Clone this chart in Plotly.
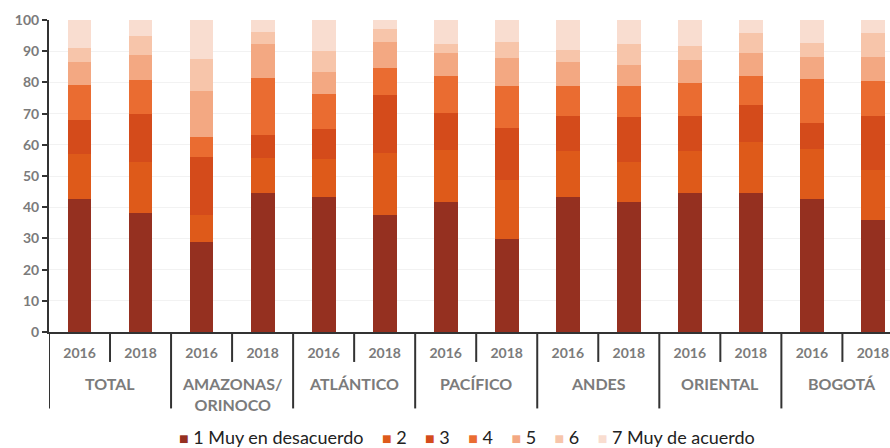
import plotly.graph_objects as go

regions = ["TOTAL", "AMAZONAS/<br>ORINOCO", "ATLÁNTICO", "PACÍFICO", "ANDES", "ORIENTAL", "BOGOTÁ"]
years = ["2016", "2018"]
series_names = ["1 Muy en desacuerdo", "2", "3", "4", "5", "6", "7 Muy de acuerdo"]

# Values per bar (region x year), order: TOTAL16, TOTAL18, AMAZ16, AMAZ18, ...
s1 = [42.7, 38.0, 29.0, 44.4, 43.4, 37.6, 41.8, 29.9, 43.4, 41.6, 44.7, 44.7, 42.7, 35.8]
s2 = [14.3, 16.5, 8.6, 11.4, 12.1, 19.8, 16.6, 18.9, 14.7, 13.0, 13.4, 16.2, 16.1, 16.2]
s3 = [10.8, 15.4, 18.6, 7.2, 9.5, 18.7, 11.8, 16.5, 11.2, 14.2, 11.0, 11.8, 8.2, 17.3]
s4 = [11.3, 10.9, 6.3, 18.3, 11.3, 8.5, 12.0, 13.6, 9.4, 10.0, 10.8, 9.2, 14.1, 11.3]
s5 = [7.3, 7.9, 14.8, 11.1, 7.0, 8.2, 7.3, 8.8, 7.7, 6.9, 7.3, 7.6, 7.1, 7.6]
s6 = [4.7, 6.3, 10.2, 3.8, 6.9, 4.2, 2.8, 5.4, 3.9, 6.7, 4.4, 6.4, 4.4, 7.7]
s7 = [8.9, 5.0, 12.5, 3.8, 9.8, 3.0, 7.7, 6.9, 9.7, 7.6, 8.4, 4.1, 7.4, 4.1]
series = [s1, s2, s3, s4, s5, s6, s7]
colors = ["#953020", "#DE5A1A", "#D44B1B", "#EA6C31", "#F3A882", "#F7C5AA", "#F9DDD0"]

n = len(regions) * len(years)
xs = list(range(n))
year_labels = [years[i % 2] for i in xs]

fig = go.Figure()
for name, vals, col in zip(series_names, series, colors):
    fig.add_trace(go.Bar(x=xs, y=vals, name=name, marker=dict(color=col, line=dict(width=0)),
                         width=0.39, showlegend=False))

grey = "#7b7b7b"
axis_col = "#333333"

shapes = []
# dividers: region boundaries (long) and year boundaries (short)
for k in range(n + 1):
    b = k - 0.5
    long = (k % 2 == 0)
    shapes.append(dict(type="line", xref="x", yref="paper", x0=b, x1=b,
                       y0=0, y1=-0.245 if long else -0.096,
                       line=dict(color=axis_col, width=2)))

annotations = []
for r, reg in enumerate(regions):
    annotations.append(dict(x=2 * r + 0.5, y=-0.127, xref="x", yref="paper",
                            text="<b>" + reg + "</b>", showarrow=False, yanchor="top",
                            font=dict(family="Lato", size=16, color=grey)))

# compact legend built from the series names and colours
sep = "&nbsp;" * 4
legend_parts = []
for name, col in zip(series_names, colors):
    legend_parts.append('<span style="color:%s;font-size:16px">■</span>&nbsp;%s' % (col, name))
annotations.append(dict(x=0.497, y=-0.337, xref="paper", yref="paper", xanchor="center",
                        yanchor="middle", showarrow=False, text=sep.join(legend_parts),
                        font=dict(family="Lato", size=18, color="#222222")))

fig.update_layout(
    width=890, height=448,
    margin=dict(l=49, r=0, t=20, b=116, autoexpand=False),
    plot_bgcolor="white", paper_bgcolor="white",
    barmode="stack",
    shapes=shapes,
    annotations=annotations,
    showlegend=False,
    xaxis=dict(range=[-0.5, 13.28], tickmode="array", tickvals=xs,
               ticktext=["<b>" + t + "</b>" for t in year_labels],
               tickfont=dict(family="Lato", size=14, color=grey),
               ticklabelstandoff=7,
               showline=True, linecolor=axis_col, linewidth=2, ticks="", showgrid=False,
               zeroline=False, automargin=False),
    yaxis=dict(range=[0, 100], dtick=10, showline=True, linecolor=axis_col, linewidth=2,
               ticks="outside", ticklen=5, tickcolor=axis_col, tickwidth=1.5,
               tickfont=dict(family="Lato", size=14, color=grey),
               tickprefix="<b>", ticksuffix="</b>",
               showgrid=True, gridcolor="#f2f2f2", gridwidth=1, zeroline=False,
               automargin=False),
)

fig.write_html("out.html", config={"displayModeBar": False},
               post_script="document.body.style.margin='0';document.body.style.overflow='hidden';")
